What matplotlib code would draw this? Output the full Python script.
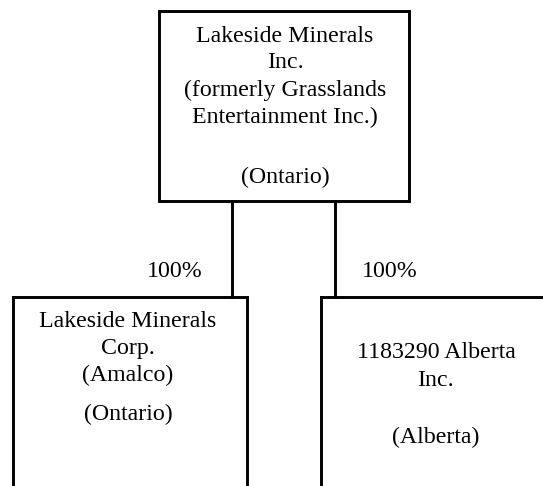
import matplotlib
matplotlib.use("Agg")
import matplotlib.pyplot as plt

# Data
parent_lines = ["Lakeside Minerals", "Inc.", "(formerly Grasslands", "Entertainment Inc.)", "(Ontario)"]
child1_lines = ["Lakeside Minerals", "Corp.", "(Amalco)", "(Ontario)"]
child2_lines = ["1183290 Alberta", "Inc.", "(Alberta)"]
ownership = ["100%", "100%"]

W, H = 543, 486
fig = plt.figure(figsize=(W / 100, H / 100), dpi=100)
ax = fig.add_axes([0, 0, 1, 1])
ax.set_xlim(0, W)
ax.set_ylim(H, 0)
ax.axis("off")

FONT = "Liberation Serif"
FS = 17.2
LW = 2.1

def rect(x0, y0, x1, y1):
    ax.plot([x0, x1, x1, x0, x0], [y0, y0, y1, y1, y0], color="black", lw=LW,
            solid_joinstyle="miter", clip_on=False)

# Boxes
rect(159, 11, 409, 201)
rect(13, 297, 247, H + 10)
rect(321, 297, W + 10, H + 10)

# Connectors
ax.plot([232, 232], [201, 297], color="black", lw=LW)
ax.plot([335, 335], [201, 297], color="black", lw=LW)

def text_lines(cx, ys, lines):
    for y, t in zip(ys, lines):
        ax.text(cx, y, t, ha="center", va="center", family=FONT, fontsize=FS)

text_lines(285, [36, 63, 90, 117, 177], parent_lines)
text_lines(128, [321, 348, 375, 414], child1_lines)
text_lines(436, [352, 380, 437], child2_lines)

ax.text(175, 271, ownership[0], ha="center", va="center", family=FONT, fontsize=FS)
ax.text(390, 271, ownership[1], ha="center", va="center", family=FONT, fontsize=FS)

fig.savefig("out.png", dpi=100)
